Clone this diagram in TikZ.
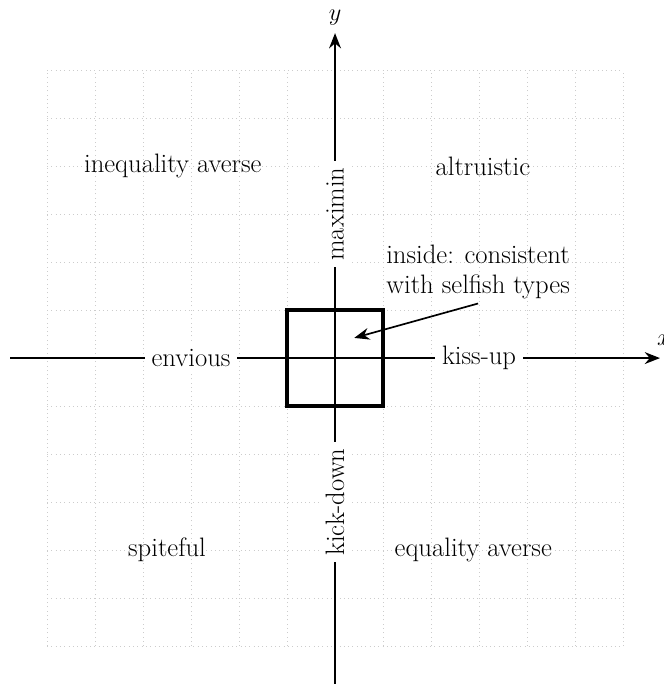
\documentclass[tikz,border=0pt]{standalone}
\usetikzlibrary{arrows.meta, positioning}
\tikzset{
  eixo/.style={-{Stealth[length=9pt, width=7pt]}, line width=1.3pt},
  rotulo/.style={font=\fontsize{15.8}{18}\selectfont},
  rotuloEixo/.style={rotulo, fill=white, inner sep=4pt},
}

\begin{document}
\begin{tikzpicture}[
    grade/.style={gray!40, dotted, line width=0.55pt},
    caixa/.style={line width=2pt},
    seta/.style={-{Stealth[length=9pt, width=7pt]}, line width=1pt}
]
\useasboundingbox (-6.98,-6.79) rectangle (6.85,7.46);

% Grade
\draw[grade] (-6,-6) grid (6,6);

% Eixos
\coordinate (xmin) at (-6.77,0);
\coordinate (xmax) at (6.77,0);
\coordinate (ymin) at (0,-6.85);
\coordinate (ymax) at (0,6.77);
\draw[eixo] (xmin) -- (xmax);
\draw[eixo] (ymin) -- (ymax);
\node[rotulo] (xlab) at (6.85,0.38) {$x$};
\node[rotulo] (ylab) at (0,7.1) {$y$};

% Caixa central
\draw[caixa] (-1,-1) rectangle (1,1);

% Rotulos dos eixos
\node[rotuloEixo] (envious) at (-3,0) {envious};
\node[rotuloEixo] (kissup) at (3,0) {kiss-up};
\node[rotuloEixo, rotate=90] (maximin) at (0,3) {maximin};
\node[rotuloEixo, rotate=90] (kickdown) at (0,-3) {kick-down};

% Quadrantes
\node[rotulo] (inequality) at (-3.38,4) {inequality averse};
\node[rotulo] (altruistic) at (3.08,4) {altruistic};
\node[rotulo] (spiteful) at (-3.5,-4) {spiteful};
\node[rotulo] (equality) at (2.88,-4) {equality averse};

% Anotacao
\node[rotulo, align=left, inner sep=2pt] (inside) at (2.98,1.8)
{inside: consistent\\with selfish types};
\coordinate (alvo) at (0.4,0.42);
\draw[seta] (inside.south) ++(0,-0.02) -- (alvo);

\end{tikzpicture}
\end{document}
